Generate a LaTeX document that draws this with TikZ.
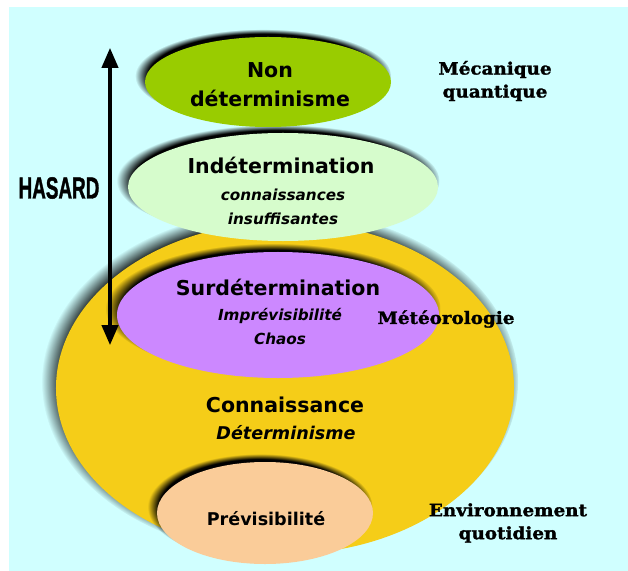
\documentclass[tikz,border=0pt]{standalone}
\usepackage{fontspec}
\setmainfont{DejaVu Sans}
\newfontfamily\sidefont{DejaVu Serif Bold}[FakeStretch=1.08, FakeBold=1.6]
\newfontfamily\hasardfont{Liberation Sans Bold}[FakeBold=1.5]
\usetikzlibrary{arrows.meta,shapes.geometric,shadows,fadings}
\definecolor{skycyan}{RGB}{208,255,255}
\definecolor{nondetgreen}{RGB}{153,204,0}
\definecolor{indetgreen}{RGB}{214,252,204}
\definecolor{connyellow}{RGB}{245,205,24}
\definecolor{surdetviolet}{RGB}{204,136,255}
\definecolor{previspeach}{RGB}{250,204,153}

\begin{document}
\begin{tikzpicture}[x=0.03cm, y=-0.03cm,
    blob/.style={ellipse, inner sep=0pt, outer sep=0pt,
        circular drop shadow={shadow xshift=-4pt, shadow yshift=5pt, shadow scale=1.04, opacity=1, fill=black,
            path fading={circle with fuzzy edge 10 percent}}},
    title/.style={font=\fontsize{17.5}{25}\selectfont\bfseries, align=center},
    sub/.style={font=\fontsize{13}{20.5}\selectfont\bfseries\itshape, align=center},
    side/.style={font=\fontsize{14.5}{19.6}\selectfont\sidefont, align=center},
    hzarrow/.style={{Triangle[length=17pt,width=14pt]}-{Triangle[length=17pt,width=14pt]}, line width=2.6pt}
]
\useasboundingbox (0,0) rectangle (628,571);
\fill[skycyan] (9,7) rectangle (628,571);

% Connaissance
\node[blob, fill=connyellow, minimum width=13.74cm, minimum height=9.96cm] (connais) at (285,388) {};

% Indetermination
\node[blob, fill=indetgreen, minimum width=9.3cm, minimum height=3.24cm] (indet) at (283,187) {};

% Non determinisme
\node[blob, fill=nondetgreen, minimum width=7.38cm, minimum height=2.7cm] (nondet) at (268,82) {};

% Surdetermination
\node[blob, fill=surdetviolet, minimum width=9.66cm, minimum height=3.78cm] (surdet) at (278,315) {};

% Previsibilite
\node[blob, fill=previspeach, minimum width=6.48cm, minimum height=3.06cm] (previs) at (265,513) {};

% Texts
\node[title] (nondettxt) at (270,85) {Non\\déterminisme};
\node[title] (indettxt) at (281,165) {Indétermination};
\node[sub] (indetsub) at (283,207) {connaissances\\insuffisantes};
\node[title] (surdettxt) at (278,287) {Surdétermination};
\node[sub] (surdetsub) at (280,327) {Imprévisibilité\\Chaos};
\node[title] (connaistxt) at (285,405) {Connaissance};
\node[sub, font=\fontsize{15}{18}\selectfont\bfseries\itshape] (connaissub) at (286,433) {Déterminisme};
\node[title, font=\fontsize{15}{18}\selectfont\bfseries] (previstxt) at (266,519) {Prévisibilité};

% Side labels
\node[side] (mecaq) at (495,81) {Mécanique\\quantique};
\node[side] (meteo) at (446,319) {Météorologie};
\node[side] (envq) at (508,523) {Environnement\\quotidien};

% Hasard
\coordinate (hztop) at (110,48);
\coordinate (hzbot) at (110,345);
\draw[hzarrow] (hztop) -- (hzbot);
\node[font=\fontsize{26}{30}\selectfont\hasardfont] (hasard) at (59,188) {\scalebox{0.62}[1]{HASARD}};

\end{tikzpicture}
\end{document}
